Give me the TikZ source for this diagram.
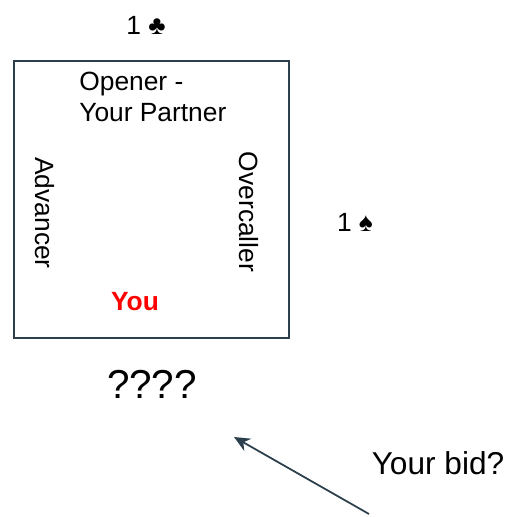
\documentclass[tikz,border=0pt]{standalone}
\usepackage{fontspec}
\setmainfont{Liberation Sans}
\usetikzlibrary{arrows.meta}
\definecolor{slate}{HTML}{2B3F4C}

\tikzset{
  label text/.style={font=\fontsize{15}{17.6}\selectfont},
  big text/.style={font=\fontsize{23}{27}\selectfont},
}

\begin{document}
\begin{tikzpicture}[x=0.02cm,y=-0.02cm]
\useasboundingbox (0,0) rectangle (508,517);

\coordinate (NW) at (14,61);
\coordinate (SE) at (289,338);

\draw[slate, line width=0.8pt] (NW) rectangle (SE);

%the bids round the table
\node[label text] (club) at (146,25) {1 ♣};
\node[label text] (spade) at (355,222) {1 ♠};

%players inside the table
\node[label text, anchor=north west, align=left, inner sep=0pt] (opener) at (79,72) {Opener -\\Your Partner};
\node[label text, rotate=-90] (advancer) at (45,213) {Advancer};
\node[label text, rotate=-90] (overcaller) at (249,212) {Overcaller};
\node[font=\fontsize{15}{17.6}\selectfont\bfseries, red] (you) at (135,302) {You};

\node[big text] (query) at (152,384) {????};
\node[font=\fontsize{18}{21}\selectfont] (bid) at (438,463) {Your bid?};

\coordinate (tail) at (369,514);
\coordinate (head) at (234,437);
\draw[slate, line width=1pt, -{Stealth[length=9pt, width=8pt]}] (tail) -- (head);

\end{tikzpicture}
\end{document}
